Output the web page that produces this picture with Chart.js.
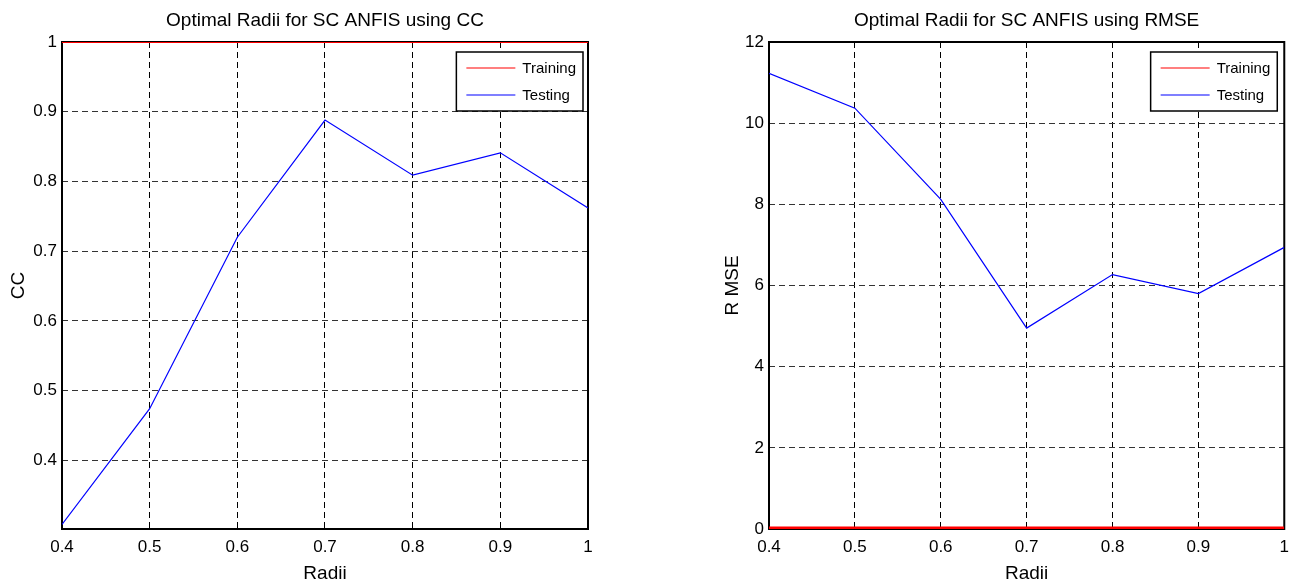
<!DOCTYPE html>
<html>
<head>
<meta charset="utf-8">
<script src="https://cdn.jsdelivr.net/npm/chart.js@4/dist/chart.umd.min.js"></script>
<style>
  html, body { margin: 0; padding: 0; background: #fff; }
  body { width: 1297px; height: 588px; position: relative; overflow: hidden; }
  .box { position: absolute; top: 0; height: 588px; }
  #leftBox { left: 0; width: 650px; }
  #rightBox { left: 650px; width: 647px; }
</style>
</head>
<body>
<div class="box" id="leftBox"><canvas id="ccChart"></canvas></div>
<div class="box" id="rightBox"><canvas id="rmseChart"></canvas></div>
<script>
// ---- data ----
const radii = [0.4, 0.5, 0.6, 0.7, 0.8, 0.9, 1.0];
const ccTraining = [1, 1, 1, 1, 1, 1, 1];
const ccTesting = [0.308, 0.474, 0.720, 0.888, 0.809, 0.841, 0.762];
const rmseTraining = [0.03, 0.03, 0.03, 0.03, 0.03, 0.03, 0.03];
const rmseTesting = [11.23, 10.37, 8.12, 4.95, 6.27, 5.80, 6.94];
const xTicks = [0.4, 0.5, 0.6, 0.7, 0.8, 0.9, 1];
const ccTicks = [0.4, 0.5, 0.6, 0.7, 0.8, 0.9, 1];
const rmseTicks = [0, 2, 4, 6, 8, 10, 12];
const seriesNames = ['Training', 'Testing'];
const titles = ['Optimal Radii for SC ANFIS using CC', 'Optimal Radii for SC ANFIS using RMSE'];

const FONT = "'Liberation Sans', Arial, Helvetica, sans-serif";

function pts(xs, ys) { return xs.map((x, i) => ({ x: x, y: ys[i] })); }

const frameAndTitle = {
  id: 'frameAndTitle',
  beforeDatasetsDraw(chart) {
    const { ctx, chartArea: a } = chart;
    ctx.save();
    ctx.strokeStyle = '#000';
    ctx.lineWidth = 2;
    ctx.strokeRect(a.left, a.top, a.right - a.left, a.bottom - a.top);
    ctx.restore();
  },
  afterDraw(chart, args, opts) {
    const { ctx, chartArea: a } = chart;
    ctx.save();
    // title
    ctx.fillStyle = '#000';
    ctx.font = '19px ' + FONT;
    ctx.textAlign = 'center';
    ctx.textBaseline = 'alphabetic';
    ctx.fillText(opts.title, (a.left + a.right) / 2, 26);
    // legend
    ctx.font = '15px ' + FONT;
    const ds = chart.data.datasets;
    let maxW = 0;
    ds.forEach(d => { maxW = Math.max(maxW, ctx.measureText(d.label).width); });
    const w = 10 + 49 + 7 + maxW + 7;
    const h = 59;
    const x0 = a.right - opts.legendRight - w;
    const y0 = a.top + 10;
    ctx.fillStyle = '#fff';
    ctx.fillRect(x0, y0, w, h);
    ctx.strokeStyle = '#000';
    ctx.lineWidth = 1.5;
    ctx.strokeRect(x0, y0, w, h);
    ds.forEach((d, i) => {
      const yy = y0 + 16 + i * 27;
      ctx.strokeStyle = d.borderColor;
      ctx.lineWidth = 1.2;
      ctx.beginPath();
      ctx.moveTo(x0 + 10, yy);
      ctx.lineTo(x0 + 59, yy);
      ctx.stroke();
      ctx.fillStyle = '#000';
      ctx.textAlign = 'left';
      ctx.textBaseline = 'middle';
      ctx.fillText(d.label, x0 + 66, yy + 1);
    });
    ctx.restore();
  }
};

function makeChart(id, trainVals, testVals, yTicks, yMin, yMax, yTitle, title, yWidth, padRight, yTitlePad, legendRight, trainWidth) {
  return new Chart(document.getElementById(id), {
    type: 'line',
    data: {
      datasets: [
        { label: seriesNames[0], data: pts(radii, trainVals), borderColor: '#ff0000', borderWidth: trainWidth, pointRadius: 0, tension: 0 },
        { label: seriesNames[1], data: pts(radii, testVals), borderColor: '#0000ff', borderWidth: 1.2, pointRadius: 0, tension: 0 }
      ]
    },
    options: {
      responsive: true,
      maintainAspectRatio: false,
      animation: false,
      devicePixelRatio: 1,
      layout: { padding: { top: 42, right: padRight, left: 0, bottom: 0 } },
      plugins: {
        legend: { display: false },
        title: { display: false },
        tooltip: { enabled: false },
        frameAndTitle: { title: title, legendRight: legendRight }
      },
      scales: {
        x: {
          type: 'linear',
          min: xTicks[0],
          max: xTicks[xTicks.length - 1],
          afterBuildTicks: s => { s.ticks = xTicks.map(v => ({ value: v })); },
          afterFit: s => { s.height = 59; },
          border: { display: false, dash: [6, 4] },
          grid: { color: '#000', lineWidth: 1, drawTicks: false },
          ticks: { color: '#000', font: { family: FONT, size: 17 }, padding: 8, maxRotation: 0, callback: v => String(v) },
          title: { display: true, text: 'Radii', color: '#000', font: { family: FONT, size: 19 }, padding: { top: 0, bottom: 3 } }
        },
        y: {
          type: 'linear',
          min: yMin,
          max: yMax,
          afterBuildTicks: s => { s.ticks = yTicks.map(v => ({ value: v })); },
          afterFit: s => { s.width = yWidth; },
          border: { display: false, dash: [6, 4] },
          grid: { color: '#333', lineWidth: 1, drawTicks: false },
          ticks: { color: '#000', font: { family: FONT, size: 17 }, padding: 5, callback: v => String(v) },
          title: { display: true, text: yTitle, color: '#000', font: { family: FONT, size: 19 }, padding: { top: yTitlePad, bottom: 0 } }
        }
      }
    },
    plugins: [frameAndTitle]
  });
}

makeChart('ccChart', ccTraining, ccTesting, ccTicks, 0.3015, 1, 'CC', titles[0], 62, 62, 7, 5, 2);
makeChart('rmseChart', rmseTraining, rmseTesting, rmseTicks, 0, 12, 'R MSE', titles[1], 119, 12, 71, 7, 2.5);
</script>
</body>
</html>
